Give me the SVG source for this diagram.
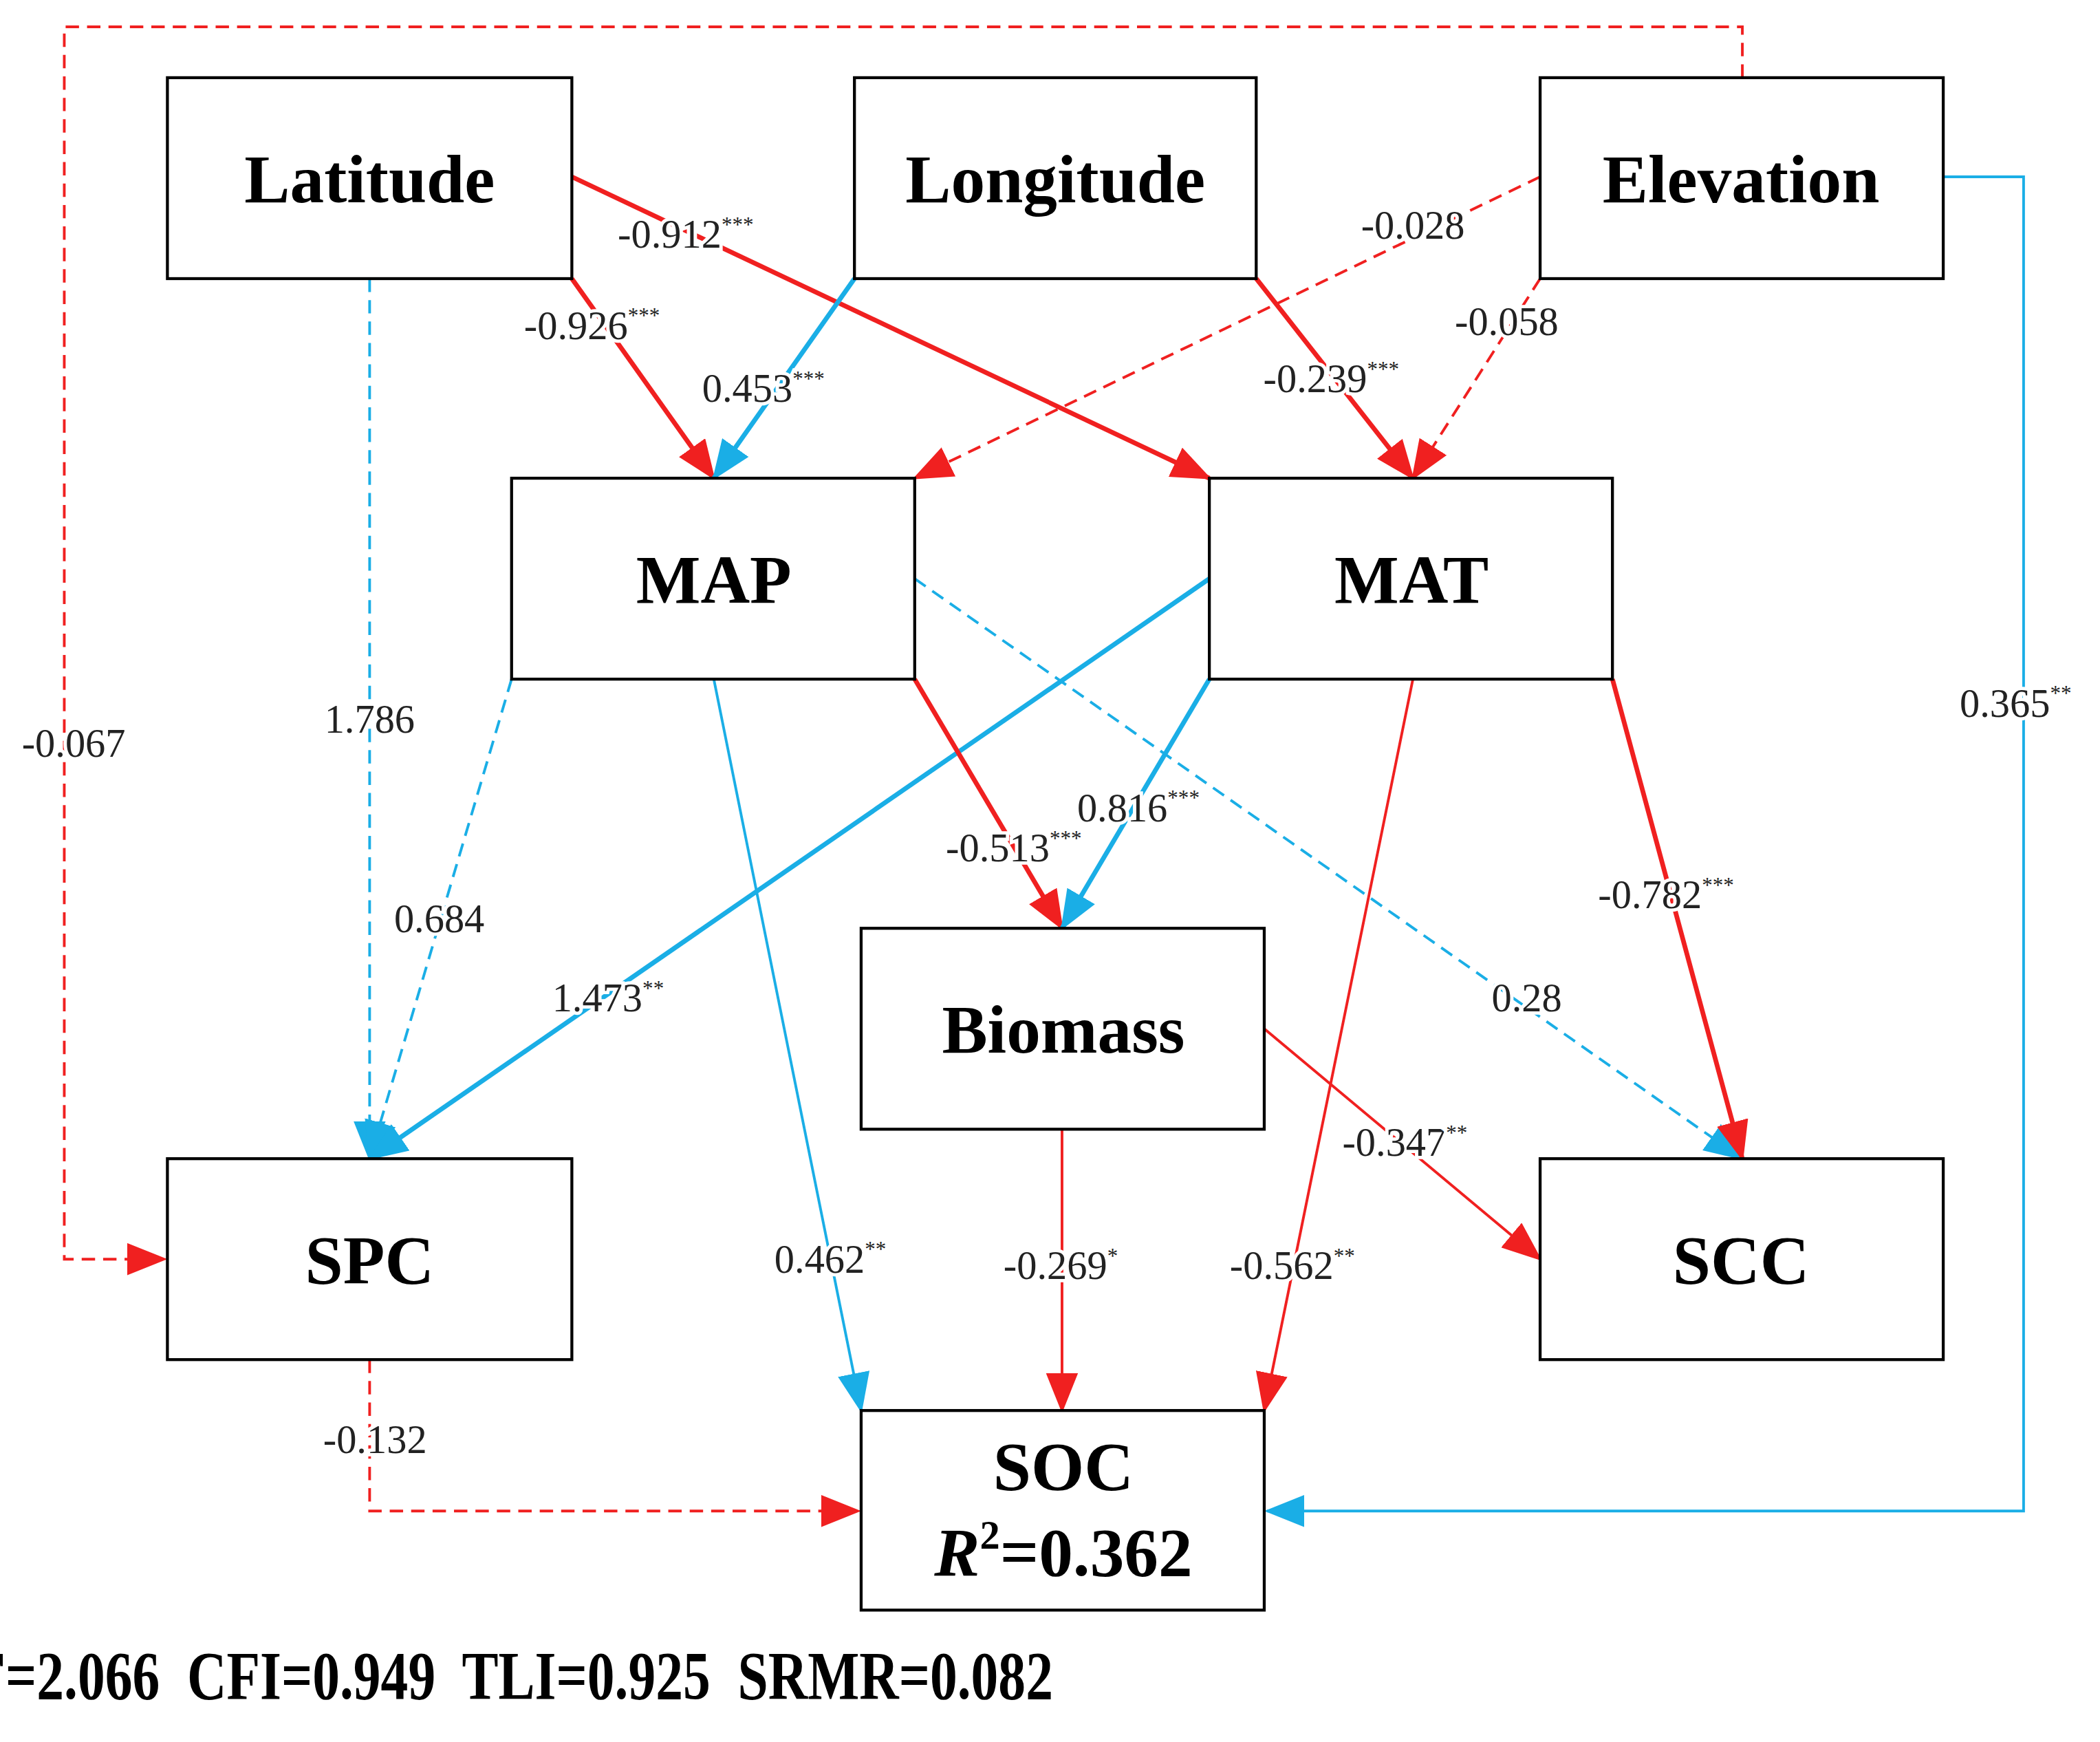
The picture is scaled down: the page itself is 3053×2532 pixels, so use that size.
<svg xmlns="http://www.w3.org/2000/svg" width="3053" height="2532" viewBox="0 0 3053 2532">
<style>
.box{fill:#fff;stroke:#000;stroke-width:2.2}
.nt{font-family:"Liberation Serif",serif;font-weight:bold;font-size:51px;text-anchor:middle}
.lb{font-family:"Liberation Serif",serif;font-size:30px;text-anchor:middle;fill:#222;paint-order:stroke;stroke:#fff;stroke-width:5px}
.lb tspan.s{font-size:16px}
.r{stroke:#f02020;fill:none}
.b{stroke:#1aaee6;fill:none}
.t1{stroke-width:2}
.t2{stroke-width:3.5}
.d{stroke-dasharray:10 6}
</style>
<defs>
<marker id="ar" markerUnits="userSpaceOnUse" markerWidth="30" markerHeight="24" refX="28" refY="12" orient="auto"><path d="M0,0L30,12L0,24z" fill="#f02020"/></marker>
<marker id="ab" markerUnits="userSpaceOnUse" markerWidth="30" markerHeight="24" refX="28" refY="12" orient="auto"><path d="M0,0L30,12L0,24z" fill="#1aaee6"/></marker>
</defs>
<rect width="3053" height="2532" fill="#fff"/>
<g transform="scale(1.947)">
<g id="connectors">
<path class="r t1 d" d="M1301,58V20H48V940H123" marker-end="url(#ar)"/>
<path class="r t2" d="M427,132L903,357" marker-end="url(#ar)"/>
<path class="r t2" d="M427,208L533,357" marker-end="url(#ar)"/>
<path class="b t2" d="M638,208L533,357" marker-end="url(#ab)"/>
<path class="r t2" d="M938,208L1055,357" marker-end="url(#ar)"/>
<path class="r t1 d" d="M1150,132L683,357" marker-end="url(#ar)"/>
<path class="r t1 d" d="M1150,208L1055,357" marker-end="url(#ar)"/>
<path class="b t1" d="M1451,132H1511V1128H946" marker-end="url(#ab)"/>
<path class="b t1 d" d="M276,208V865" marker-end="url(#ab)"/>
<path class="b t1 d" d="M382,507L276,865" marker-end="url(#ab)"/>
<path class="b t2" d="M903,432L276,865" marker-end="url(#ab)"/>
<path class="b t1" d="M533,507L643,1053" marker-end="url(#ab)"/>
<path class="r t2" d="M683,507L793,693" marker-end="url(#ar)"/>
<path class="b t2" d="M903,507L793,693" marker-end="url(#ab)"/>
<path class="b t1 d" d="M683,432L1301,865" marker-end="url(#ab)"/>
<path class="r t1" d="M1055,507L944,1053" marker-end="url(#ar)"/>
<path class="r t2" d="M1204,507L1301,865" marker-end="url(#ar)"/>
<path class="r t1" d="M944,768L1150,940" marker-end="url(#ar)"/>
<path class="r t1" d="M793,843V1053" marker-end="url(#ar)"/>
<path class="r t1 d" d="M276,1015V1128H641" marker-end="url(#ar)"/>
</g>
<g id="labels">
<text class="lb" x="55" y="565">-0.067</text>
<text class="lb" x="512" y="185">-0.912<tspan class="s" dy="-12">***</tspan></text>
<text class="lb" x="442" y="253">-0.926<tspan class="s" dy="-12">***</tspan></text>
<text class="lb" x="570" y="300">0.453<tspan class="s" dy="-12">***</tspan></text>
<text class="lb" x="994" y="293">-0.239<tspan class="s" dy="-12">***</tspan></text>
<text class="lb" x="1055" y="178">-0.028</text>
<text class="lb" x="1125" y="250">-0.058</text>
<text class="lb" x="1505" y="535">0.365<tspan class="s" dy="-12">**</tspan></text>
<text class="lb" x="276" y="547">1.786</text>
<text class="lb" x="328" y="696">0.684</text>
<text class="lb" x="454" y="755">1.473<tspan class="s" dy="-12">**</tspan></text>
<text class="lb" x="620" y="950">0.462<tspan class="s" dy="-12">**</tspan></text>
<text class="lb" x="757" y="643">-0.513<tspan class="s" dy="-12">***</tspan></text>
<text class="lb" x="850" y="613">0.816<tspan class="s" dy="-12">***</tspan></text>
<text class="lb" x="1140" y="755">0.28</text>
<text class="lb" x="965" y="955">-0.562<tspan class="s" dy="-12">**</tspan></text>
<text class="lb" x="1244" y="678">-0.782<tspan class="s" dy="-12">***</tspan></text>
<text class="lb" x="1049" y="863">-0.347<tspan class="s" dy="-12">**</tspan></text>
<text class="lb" x="792" y="955">-0.269<tspan class="s" dy="-12">*</tspan></text>
<text class="lb" x="280" y="1085">-0.132</text>
</g>
<g id="latitude"><rect class="box" x="125" y="58" width="302" height="150"/><text class="nt" x="276" y="151">Latitude</text></g>
<g id="longitude"><rect class="box" x="638" y="58" width="300" height="150"/><text class="nt" x="788" y="151">Longitude</text></g>
<g id="elevation"><rect class="box" x="1150" y="58" width="301" height="150"/><text class="nt" x="1300" y="151">Elevation</text></g>
<g id="map"><rect class="box" x="382" y="357" width="301" height="150"/><text class="nt" x="533" y="450">MAP</text></g>
<g id="mat"><rect class="box" x="903" y="357" width="301" height="150"/><text class="nt" x="1054" y="450">MAT</text></g>
<g id="biomass"><rect class="box" x="643" y="693" width="301" height="150"/><text class="nt" x="794" y="786">Biomass</text></g>
<g id="spc"><rect class="box" x="125" y="865" width="302" height="150"/><text class="nt" x="276" y="958">SPC</text></g>
<g id="scc"><rect class="box" x="1150" y="865" width="301" height="150"/><text class="nt" x="1300" y="958">SCC</text></g>
<g id="soc"><rect class="box" x="643" y="1053" width="301" height="149"/><text class="nt" x="794" y="1112">SOC</text><text class="nt" x="794" y="1176"><tspan font-style="italic">R</tspan><tspan font-size="30" dy="-20">2</tspan><tspan dy="20">=0.362</tspan></text></g>
<text class="nt" font-size="34" xml:space="preserve"><tspan x="345" y="1268">χ</tspan><tspan font-size="22" dy="-14">2</tspan><tspan dy="14" textLength="848" lengthAdjust="spacingAndGlyphs">/DF=2.066  CFI=0.949  TLI=0.925  SRMR=0.082</tspan></text>
</g>
</svg>
